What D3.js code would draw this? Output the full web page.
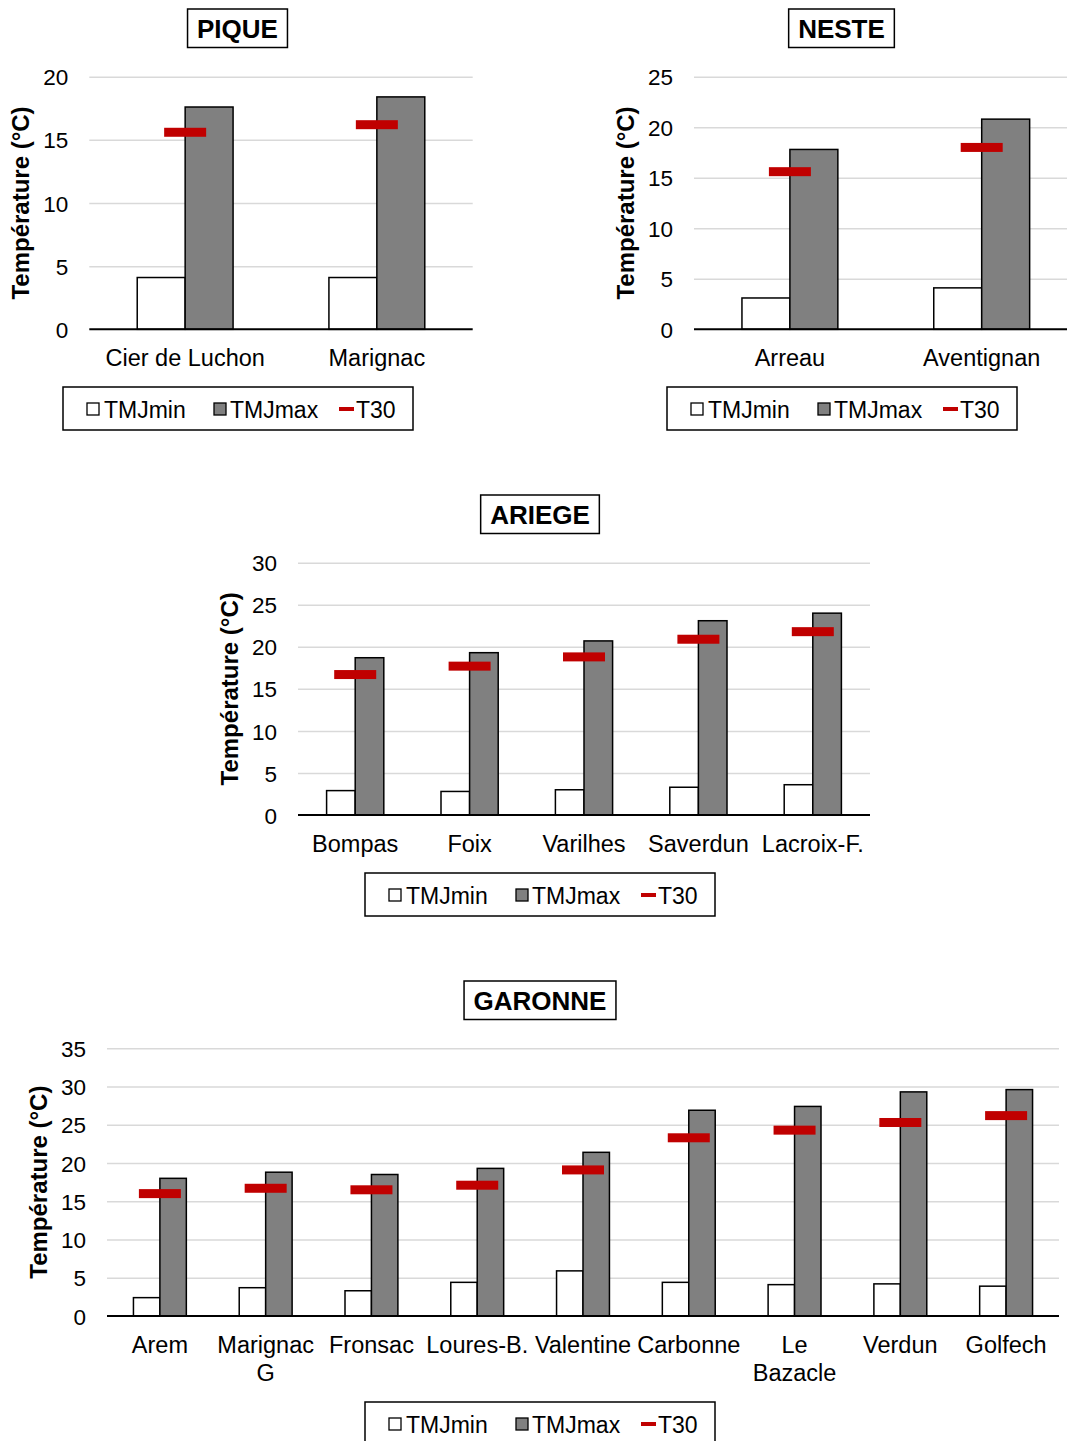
<!DOCTYPE html>
<html>
<head>
<meta charset="utf-8">
<script src="https://cdn.jsdelivr.net/npm/d3@7"></script>
<style>
  html, body { margin: 0; padding: 0; background: #fff; }
  svg { display: block; font-family: "Liberation Sans", Arial, sans-serif; }
</style>
</head>
<body>
<svg id="chart" width="1067" height="1441"></svg>
<script>
// ---------- DATA ----------
const legendLabels = ["TMJmin", "TMJmax", "T30"];

const piqueCats = ["Cier de Luchon", "Marignac"];
const piqueMin  = [4.1, 4.1];
const piqueMax  = [17.6, 18.4];
const piqueT30  = [15.6, 16.2];
const piqueTicks = [0, 5, 10, 15, 20];

const nesteCats = ["Arreau", "Aventignan"];
const nesteMin  = [3.1, 4.1];
const nesteMax  = [17.8, 20.8];
const nesteT30  = [15.6, 18.0];
const nesteTicks = [0, 5, 10, 15, 20, 25];

const ariegeCats = ["Bompas", "Foix", "Varilhes", "Saverdun", "Lacroix-F."];
const ariegeMin  = [2.9, 2.8, 3.0, 3.3, 3.6];
const ariegeMax  = [18.7, 19.3, 20.7, 23.1, 24.0];
const ariegeT30  = [16.7, 17.7, 18.8, 20.9, 21.8];
const ariegeTicks = [0, 5, 10, 15, 20, 25, 30];

const garonneCats = ["Arem", "Marignac G", "Fronsac", "Loures-B.", "Valentine", "Carbonne", "Le Bazacle", "Verdun", "Golfech"];
const garonneMin  = [2.4, 3.7, 3.3, 4.4, 5.9, 4.4, 4.1, 4.2, 3.9];
const garonneMax  = [18.0, 18.8, 18.5, 19.3, 21.4, 26.9, 27.4, 29.3, 29.6];
const garonneT30  = [16.0, 16.7, 16.5, 17.1, 19.1, 23.3, 24.3, 25.3, 26.2];
const garonneTicks = [0, 5, 10, 15, 20, 25, 30, 35];

const yTitle = "Température (°C)";

// ---------- DRAW ----------
const svg = d3.select("#chart");

function drawChart(c) {
  const g = svg.append("g");
  const x = d3.scaleBand().domain(c.cats).range([c.left, c.right]).paddingInner(0).paddingOuter(0);
  const y = d3.scaleLinear().domain([0, d3.max(c.ticks)]).range([c.bottom, c.top]);
  const bw = x.bandwidth() * 0.25;

  // Title box
  const tt = g.append("text")
    .attr("x", c.titleX).attr("y", c.titleTop + 29)
    .attr("text-anchor", "middle")
    .attr("font-size", 26).attr("font-weight", "bold").attr("fill", "#000")
    .text(c.title);
  const tw = tt.node().getComputedTextLength();
  g.insert("rect", "text")
    .attr("x", c.titleX - tw / 2 - 9.5).attr("y", c.titleTop)
    .attr("width", tw + 19).attr("height", 38.5)
    .attr("fill", "#fff").attr("stroke", "#000").attr("stroke-width", 1.5);

  // Gridlines
  const grid = g.append("g").attr("transform", `translate(${c.left},0)`)
    .call(d3.axisLeft(y).tickValues(c.ticks).tickSize(-(c.right - c.left)).tickFormat(""));
  grid.select(".domain").remove();
  grid.selectAll(".tick line").attr("stroke", "#d9d9d9").attr("stroke-width", 1.5);
  grid.selectAll(".tick").filter(d => d === 0).remove();

  // Y tick labels
  const ya = g.append("g").attr("transform", `translate(${c.left},0)`)
    .call(d3.axisLeft(y).tickValues(c.ticks).tickSize(0).tickPadding(21));
  ya.select(".domain").remove();
  ya.selectAll("text").attr("font-size", 22.5).attr("fill", "#000")
    .attr("font-family", "Liberation Sans, Arial, sans-serif").attr("dy", "0.36em");

  // Y title
  g.append("text")
    .attr("transform", `translate(${c.left - 60},${(c.top + c.bottom) / 2}) rotate(-90)`)
    .attr("text-anchor", "middle")
    .attr("font-size", 24).attr("font-weight", "bold").attr("fill", "#000")
    .text(yTitle);

  // Bars
  g.append("g").selectAll("rect").data(c.cats).join("rect")
    .attr("x", d => x(d) + x.bandwidth() / 2 - bw)
    .attr("y", (d, i) => y(c.min[i]))
    .attr("width", bw)
    .attr("height", (d, i) => y(0) - y(c.min[i]))
    .attr("fill", "#fff").attr("stroke", "#000").attr("stroke-width", 1.5);
  g.append("g").selectAll("rect").data(c.cats).join("rect")
    .attr("x", d => x(d) + x.bandwidth() / 2)
    .attr("y", (d, i) => y(c.max[i]))
    .attr("width", bw)
    .attr("height", (d, i) => y(0) - y(c.max[i]))
    .attr("fill", "#808080").attr("stroke", "#000").attr("stroke-width", 1.5);

  // Baseline axis with category labels
  const xa = g.append("g").attr("transform", `translate(0,${c.bottom})`)
    .call(d3.axisBottom(x).tickSize(0).tickPadding(0));
  xa.select(".domain").attr("stroke", "#000").attr("stroke-width", 2)
    .attr("d", `M${c.left},0H${c.right}`);
  xa.selectAll(".tick text").each(function(d) {
    const t = d3.select(this);
    t.attr("font-size", 23.5).attr("fill", "#000").attr("dy", null).attr("y", 37)
     .attr("font-family", "Liberation Sans, Arial, sans-serif");
    t.text(d);
    if (this.getComputedTextLength() > x.bandwidth() * 0.98 && d.indexOf(" ") > 0) {
      const words = d.split(" ");
      t.text(null);
      words.forEach((w, k) => {
        t.append("tspan").attr("x", 0).attr("y", 37 + k * 28).text(w);
      });
    }
  });

  // T30 markers
  g.append("g").selectAll("rect").data(c.cats).join("rect")
    .attr("x", d => x(d) + x.bandwidth() / 2 - 21)
    .attr("y", (d, i) => y(c.t30[i]) - 4.5)
    .attr("width", 42).attr("height", 9)
    .attr("fill", "#c00000");

  // Legend
  const L = g.append("g").attr("transform", `translate(${c.legendLeft},${c.legendTop})`);
  L.append("rect").attr("width", 350).attr("height", 43)
    .attr("fill", "#fff").attr("stroke", "#000").attr("stroke-width", 1.5);
  const cy = 22;
  L.append("rect").attr("x", 24).attr("y", cy - 6).attr("width", 12).attr("height", 12)
    .attr("fill", "#fff").attr("stroke", "#000").attr("stroke-width", 1.3);
  L.append("rect").attr("x", 151).attr("y", cy - 6).attr("width", 12).attr("height", 12)
    .attr("fill", "#808080").attr("stroke", "#000").attr("stroke-width", 1.3);
  L.append("rect").attr("x", 276).attr("y", cy - 2).attr("width", 15).attr("height", 4)
    .attr("fill", "#c00000");
  const lx = [41, 167, 293];
  legendLabels.forEach((lab, k) => {
    L.append("text").attr("x", lx[k]).attr("y", cy + 8.5)
      .attr("font-size", 23).attr("fill", "#000").text(lab);
  });
}

drawChart({ title: "PIQUE", cats: piqueCats, min: piqueMin, max: piqueMax, t30: piqueT30, ticks: piqueTicks,
  left: 89.3, right: 472.7, top: 76.7, bottom: 329.3, titleX: 237.5, titleTop: 9, legendLeft: 63, legendTop: 387 });
drawChart({ title: "NESTE", cats: nesteCats, min: nesteMin, max: nesteMax, t30: nesteT30, ticks: nesteTicks,
  left: 694, right: 1077.6, top: 76.7, bottom: 329.3, titleX: 841.5, titleTop: 9, legendLeft: 667, legendTop: 387 });
drawChart({ title: "ARIEGE", cats: ariegeCats, min: ariegeMin, max: ariegeMax, t30: ariegeT30, ticks: ariegeTicks,
  left: 298, right: 870, top: 562.7, bottom: 815, titleX: 540, titleTop: 495, legendLeft: 365, legendTop: 873 });
drawChart({ title: "GARONNE", cats: garonneCats, min: garonneMin, max: garonneMax, t30: garonneT30, ticks: garonneTicks,
  left: 107, right: 1059, top: 1048.3, bottom: 1316, titleX: 540, titleTop: 981, legendLeft: 365, legendTop: 1402 });
</script>
</body>
</html>
